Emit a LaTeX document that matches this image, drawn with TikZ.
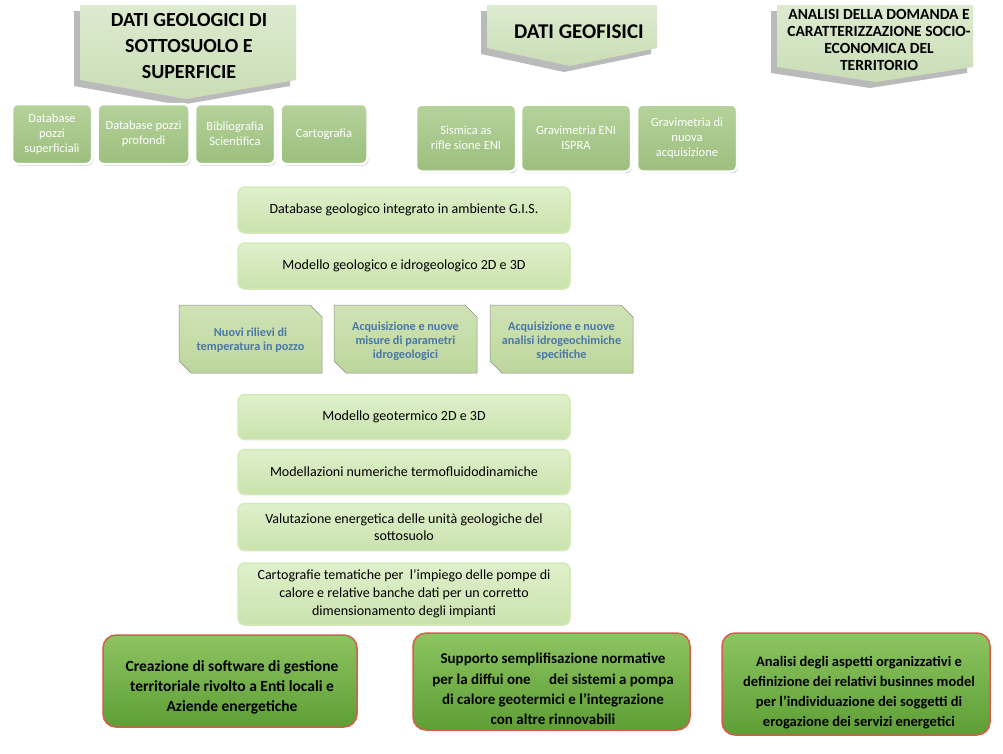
\documentclass[tikz,border=0pt]{standalone}
\usepackage{fontspec}
\setmainfont{Carlito}
\usetikzlibrary{shadows}
\definecolor{calfill}{HTML}{DCEBCF}
\definecolor{calfillb}{HTML}{C9DDB6}
\definecolor{sbtop}{HTML}{B5D29B}
\definecolor{sbbot}{HTML}{9CBF7E}
\definecolor{bartop}{HTML}{DFF0CB}
\definecolor{barbot}{HTML}{C9E2AC}
\definecolor{barline}{HTML}{D2EABA}
\definecolor{sniptop}{HTML}{CFE3B5}
\definecolor{snipbot}{HTML}{BDD69C}
\definecolor{sniptext}{HTML}{4A76A8}
\definecolor{redtop}{HTML}{8CC461}
\definecolor{redbot}{HTML}{5E9E35}
\definecolor{redline}{HTML}{DC5A4A}
\tikzset{
  callout/.style={top color=calfill, bottom color=calfillb, draw=none,
     drop shadow={shadow xshift=-6pt, shadow yshift=-6pt, fill=black!45, opacity=0.6}},
  caltext/.style={font=\bfseries, align=center, text=black},
  smallbox/.style={draw=white, line width=2.5pt, rounded corners=6pt,
     top color=sbtop, bottom color=sbbot,
     drop shadow={shadow xshift=1pt, shadow yshift=-1.5pt, fill=black!40, opacity=0.7},
     align=center, text=white, font=\fontsize{12.5}{15}\selectfont, inner sep=2pt},
  barbox/.style={draw=barline, line width=1.5pt, rounded corners=7pt,
     top color=bartop, bottom color=barbot, minimum width=332pt,
     align=center, font=\fontsize{14}{17}\selectfont, text=black},
  sniptxt/.style={align=center, text=sniptext, font=\bfseries\fontsize{12.2}{14}\selectfont},
  redbox/.style={draw=redline, line width=1.5pt, rounded corners=13pt,
     top color=redtop, bottom color=redbot},
  redtext/.style={align=center, font=\bfseries\fontsize{15.5}{20}\selectfont, text=black},
}
\begin{document}
\begin{tikzpicture}[x=1pt,y=-1pt]
\useasboundingbox (0,0) rectangle (1003,753);
\fill[white] (0,0) rectangle (1003,753);
% callouts
\path[callout] (80,5) -- (296,5) -- (296,80) -- (186,99) -- (80,80) -- cycle;
\node[caltext, font=\bfseries\fontsize{20}{26}\selectfont] (t1) at (189,46) {DATI GEOLOGICI DI\\SOTTOSUOLO E\\SUPERFICIE};
\path[callout] (487,5) -- (657,5) -- (657,48) -- (570,66) -- (487,48) -- cycle;
\node[caltext, font=\bfseries\fontsize{21}{24}\selectfont] (t2) at (579,32) {DATI GEOFISICI};
\path[callout] (777,5) -- (973,5) -- (973,67) -- (876,82) -- (777,67) -- cycle;
\node[caltext, font=\bfseries\fontsize{15.5}{16.7}\selectfont] (t3) at (879,40) {ANALISI DELLA DOMANDA E\\CARATTERIZZAZIONE SOCIO-\\ECONOMICA DEL\\TERRITORIO};
% small boxes
\node[smallbox, minimum width=80pt, minimum height=60pt] (a1) at (52,134) {Database\\pozzi\\superficiali};
\node[smallbox, minimum width=92pt, minimum height=60pt] (a2) at (143.5,134) {Database pozzi\\profondi};
\node[smallbox, minimum width=80pt, minimum height=60pt] (a3) at (235,134) {Bibliografia\\Scientifica};
\node[smallbox, minimum width=87pt, minimum height=60pt] (a4) at (324,134) {Cartografia};
\node[smallbox, minimum width=100pt, minimum height=67pt] (b1) at (466,138) {Sismica as\\rifle sione ENI};
\node[smallbox, minimum width=110pt, minimum height=67pt] (b2) at (576,138) {Gravimetria ENI\\ISPRA};
\node[smallbox, minimum width=100pt, minimum height=67pt] (b3) at (687,138) {Gravimetria di\\nuova\\acquisizione};
% bars
\node[barbox, minimum height=46pt] (c1) at (404,210) {Database geologico integrato in ambiente G.I.S.};
\node[barbox, minimum height=46pt] (c2) at (404,266) {Modello geologico e idrogeologico 2D e 3D};
% snipped boxes
\foreach \x in {179,334,490}{
  \path[top color=sniptop, bottom color=snipbot, draw=black!45, line width=0.5pt]
    (\x,305) -- (\x+131,305) -- (\x+143,317) -- (\x+143,373) -- (\x+12,373) -- (\x,361) -- cycle;
}
\node[sniptxt] (s1) at (250.5,340) {Nuovi rilievi di\\temperatura in pozzo};
\node[sniptxt] (s2) at (405.5,341) {Acquisizione e nuove\\misure di parametri\\idrogeologici};
\node[sniptxt] (s3) at (561.5,341) {Acquisizione e nuove\\analisi idrogeochimiche\\specifiche};
% bars lower
\node[barbox, minimum height=45pt] (c3) at (404,417) {Modello geotermico 2D e 3D};
\node[barbox, minimum height=45pt] (c4) at (404,472) {Modellazioni numeriche termofluidodinamiche};
\node[barbox, minimum height=47pt] (c5) at (404,527) {Valutazione energetica delle unità geologiche del\\sottosuolo};
\node[barbox, minimum height=62pt, font=\fontsize{14}{18}\selectfont] (c6) at (404,594) {Cartografie tematiche per \ l’impiego delle pompe di\\calore e relative banche dati per un corretto\\dimensionamento degli impianti};
% red boxes
\node[redbox, minimum width=254pt, minimum height=92pt] (r1) at (230,681) {};
\node[redtext] (r1t) at (232,687) {Creazione di software di gestione\\territoriale rivolto a Enti locali e\\Aziende energetiche};
\node[redbox, minimum width=277pt, minimum height=97pt] (r2) at (551.5,681.5) {};
\node[redtext, font=\bfseries\fontsize{15}{20.3}\selectfont] (r2t) at (553,689) {Supporto semplifisazione normative\\per la diffui one \quad dei sistemi a pompa\\di calore geotermici e l’integrazione\\con altre rinnovabili};
\node[redbox, minimum width=268pt, minimum height=102pt] (r3) at (856,684) {};
\node[redtext, font=\bfseries\fontsize{14.5}{20}\selectfont] (r3t) at (859,693) {Analisi degli aspetti organizzativi e\\definizione dei relativi businnes model\\per l’individuazione dei soggetti di\\erogazione dei servizi energetici};
\end{tikzpicture}
\end{document}
